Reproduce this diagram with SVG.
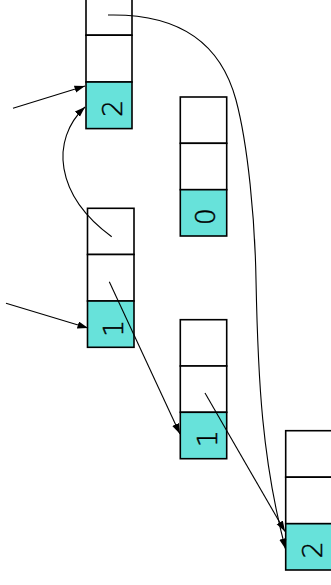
<svg xmlns="http://www.w3.org/2000/svg" width="331" height="585" viewBox="0 0 331 585">
  <style>
    .cell { fill: #ffffff; stroke: #000000; stroke-width: 1.6; }
    .val { fill: #67e2da; stroke: #000000; stroke-width: 1.6; }
    .num { font-family: "DejaVu Sans", sans-serif; font-size: 27px; font-weight: 300; fill: #000000; stroke: #000000; stroke-width: 0.45; text-anchor: middle; }
    .edge { fill: none; stroke: #000000; stroke-width: 1.1; marker-end: url(#head); }
  </style>
  <defs>
    <marker id="head" markerUnits="userSpaceOnUse" markerWidth="12" markerHeight="8" refX="10.5" refY="3.6" orient="auto">
      <path d="M0,0 L10.5,3.6 L0,7.2 z" fill="#000000"/>
    </marker>
  </defs>
  <rect width="331" height="585" fill="#ffffff"/>

  <!-- list nodes: two pointer cells above a value cell -->
  <g id="node-a">
    <rect class="cell" x="86" y="-11.5" width="46" height="46.7"/>
    <rect class="cell" x="86" y="35.2" width="46" height="46.8"/>
    <rect class="val" x="86" y="82" width="46" height="46.6"/>
    <text class="num" transform="translate(121.7,108.5) rotate(-90)">2</text>
  </g>
  <g id="node-b">
    <rect class="cell" x="87.5" y="208.3" width="46.5" height="46.2"/>
    <rect class="cell" x="87.5" y="254.5" width="46.5" height="46.5"/>
    <rect class="val" x="87.5" y="301" width="46.5" height="46.3"/>
    <text class="num" transform="translate(123.3,328.5) rotate(-90)">1</text>
  </g>
  <g id="node-c">
    <rect class="cell" x="180.3" y="97" width="46.4" height="46.3"/>
    <rect class="cell" x="180.3" y="143.3" width="46.4" height="46.4"/>
    <rect class="val" x="180.3" y="189.7" width="46.4" height="46.3"/>
    <text class="num" transform="translate(215.3,216.7) rotate(-90)">0</text>
  </g>
  <g id="node-d">
    <rect class="cell" x="180.3" y="319.7" width="46.4" height="46.3"/>
    <rect class="cell" x="180.3" y="366" width="46.4" height="46.3"/>
    <rect class="val" x="180.3" y="412.3" width="46.4" height="46.4"/>
    <text class="num" transform="translate(216.5,438.7) rotate(-90)">1</text>
  </g>
  <g id="node-e">
    <rect class="cell" x="285.7" y="430.7" width="46.4" height="46.5"/>
    <rect class="cell" x="285.7" y="477.2" width="46.4" height="46.5"/>
    <rect class="val" x="285.7" y="523.7" width="46.4" height="46.3"/>
    <text class="num" transform="translate(321.7,549.8) rotate(-90)">2</text>
  </g>

  <!-- pointers -->
  <g id="edges">
    <path class="edge" d="M13,108.3 L85,86"/>
    <path class="edge" d="M6,303.3 L88,328"/>
    <path class="edge" d="M111.7,236.7 C55,195 50,140 85,107"/>
    <path class="edge" d="M109.3,281.7 L180,434"/>
    <path class="edge" d="M205,393 L285,531.5"/>
    <path class="edge" d="M108,15 C195,13 225,59 236,100 C248,145 255,220 256,280 C258,380 262,460 285.5,549"/>
  </g>
</svg>
